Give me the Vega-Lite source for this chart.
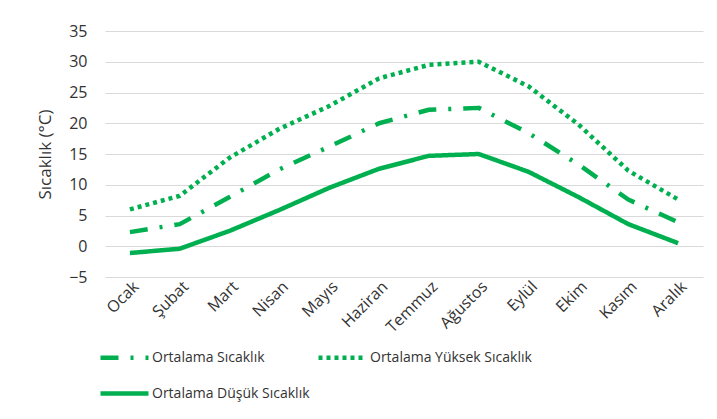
{
  "$schema": "https://vega.github.io/schema/vega-lite/v6.json",
  "width": 598,
  "height": 246,
  "autosize": {"type": "none"},
  "padding": {"left": 105, "top": 31, "right": 14, "bottom": 142},
  "background": "#ffffff",
  "config": {
    "font": "Open Sans",
    "view": {"stroke": null}
  },
  "data": {
    "values": [
      {"ay": "Ocak", "seri": "Ortalama Sıcaklık", "deger": 2.3},
      {"ay": "Şubat", "seri": "Ortalama Sıcaklık", "deger": 3.6},
      {"ay": "Mart", "seri": "Ortalama Sıcaklık", "deger": 8.0},
      {"ay": "Nisan", "seri": "Ortalama Sıcaklık", "deger": 12.5},
      {"ay": "Mayıs", "seri": "Ortalama Sıcaklık", "deger": 16.2},
      {"ay": "Haziran", "seri": "Ortalama Sıcaklık", "deger": 20.0},
      {"ay": "Temmuz", "seri": "Ortalama Sıcaklık", "deger": 22.2},
      {"ay": "Ağustos", "seri": "Ortalama Sıcaklık", "deger": 22.5},
      {"ay": "Eylül", "seri": "Ortalama Sıcaklık", "deger": 18.4},
      {"ay": "Ekim", "seri": "Ortalama Sıcaklık", "deger": 13.3},
      {"ay": "Kasım", "seri": "Ortalama Sıcaklık", "deger": 7.6},
      {"ay": "Aralık", "seri": "Ortalama Sıcaklık", "deger": 3.9},
      {"ay": "Ocak", "seri": "Ortalama Yüksek Sıcaklık", "deger": 6.0},
      {"ay": "Şubat", "seri": "Ortalama Yüksek Sıcaklık", "deger": 8.2},
      {"ay": "Mart", "seri": "Ortalama Yüksek Sıcaklık", "deger": 14.4},
      {"ay": "Nisan", "seri": "Ortalama Yüksek Sıcaklık", "deger": 19.1},
      {"ay": "Mayıs", "seri": "Ortalama Yüksek Sıcaklık", "deger": 22.8},
      {"ay": "Haziran", "seri": "Ortalama Yüksek Sıcaklık", "deger": 27.3},
      {"ay": "Temmuz", "seri": "Ortalama Yüksek Sıcaklık", "deger": 29.5},
      {"ay": "Ağustos", "seri": "Ortalama Yüksek Sıcaklık", "deger": 30.0},
      {"ay": "Eylül", "seri": "Ortalama Yüksek Sıcaklık", "deger": 26.0},
      {"ay": "Ekim", "seri": "Ortalama Yüksek Sıcaklık", "deger": 19.8},
      {"ay": "Kasım", "seri": "Ortalama Yüksek Sıcaklık", "deger": 12.3},
      {"ay": "Aralık", "seri": "Ortalama Yüksek Sıcaklık", "deger": 7.6},
      {"ay": "Ocak", "seri": "Ortalama Düşük Sıcaklık", "deger": -1.1},
      {"ay": "Şubat", "seri": "Ortalama Düşük Sıcaklık", "deger": -0.4},
      {"ay": "Mart", "seri": "Ortalama Düşük Sıcaklık", "deger": 2.5},
      {"ay": "Nisan", "seri": "Ortalama Düşük Sıcaklık", "deger": 5.9},
      {"ay": "Mayıs", "seri": "Ortalama Düşük Sıcaklık", "deger": 9.5},
      {"ay": "Haziran", "seri": "Ortalama Düşük Sıcaklık", "deger": 12.6},
      {"ay": "Temmuz", "seri": "Ortalama Düşük Sıcaklık", "deger": 14.7},
      {"ay": "Ağustos", "seri": "Ortalama Düşük Sıcaklık", "deger": 15.0},
      {"ay": "Eylül", "seri": "Ortalama Düşük Sıcaklık", "deger": 12.1},
      {"ay": "Ekim", "seri": "Ortalama Düşük Sıcaklık", "deger": 8.0},
      {"ay": "Kasım", "seri": "Ortalama Düşük Sıcaklık", "deger": 3.6},
      {"ay": "Aralık", "seri": "Ortalama Düşük Sıcaklık", "deger": 0.5}
    ]
  },
  "mark": {"type": "line", "color": "#00B050", "strokeWidth": 4.5, "strokeCap": "butt", "strokeJoin": "round"},
  "encoding": {
    "x": {
      "field": "ay",
      "type": "ordinal",
      "sort": ["Ocak", "Şubat", "Mart", "Nisan", "Mayıs", "Haziran", "Temmuz", "Ağustos", "Eylül", "Ekim", "Kasım", "Aralık"],
      "scale": {"type": "point", "padding": 0.5},
      "axis": {
        "title": null,
        "labelAngle": -45,
        "domain": false,
        "ticks": false,
        "grid": false,
        "labelFont": "Open Sans",
        "labelFontSize": 16,
        "labelColor": "#333333",
        "labelPadding": 1
      }
    },
    "y": {
      "field": "deger",
      "type": "quantitative",
      "scale": {"domain": [-5, 35], "nice": false, "zero": false},
      "axis": {
        "title": "Sıcaklık (°C)",
        "titleFont": "Open Sans",
        "titleFontSize": 17,
        "titleFontWeight": "normal",
        "titleColor": "#333333",
        "titlePadding": 14,
        "values": [-5, 0, 5, 10, 15, 20, 25, 30, 35],
        "domain": false,
        "ticks": false,
        "grid": true,
        "gridColor": "#d9d9d9",
        "gridWidth": 1,
        "labelFont": "Open Sans",
        "labelFontSize": 16,
        "labelColor": "#333333",
        "labelPadding": 18
      }
    },
    "strokeDash": {
      "field": "seri",
      "type": "nominal",
      "scale": {
        "domain": ["Ortalama Sıcaklık", "Ortalama Yüksek Sıcaklık", "Ortalama Düşük Sıcaklık"],
        "range": [[18, 12, 3, 12], [4, 4], [1, 0]]
      },
      "legend": {
        "title": null,
        "orient": "none",
        "legendX": -7,
        "legendY": 300,
        "direction": "horizontal",
        "columns": 2,
        "symbolType": "stroke",
        "symbolSize": 2304,
        "symbolStrokeWidth": 4.5,
        "symbolStrokeColor": "#00B050",
        "labelFont": "Open Sans",
        "labelFontSize": 14,
        "labelColor": "#333333",
        "labelOffset": 1,
        "labelLimit": 300,
        "rowPadding": -10,
        "columnPadding": -1
      }
    }
  }
}
